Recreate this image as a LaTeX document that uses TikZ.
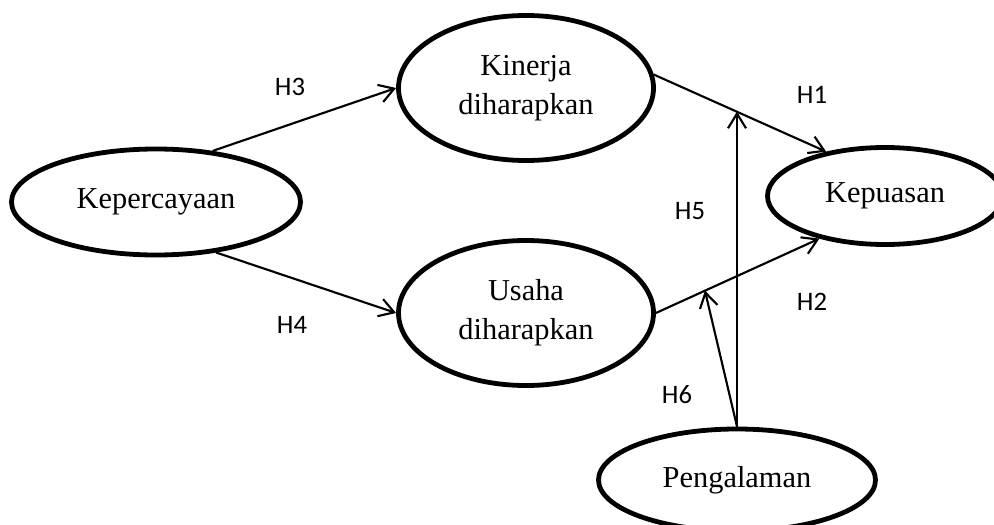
\documentclass[tikz,border=0pt]{standalone}
\usepackage{fontspec}
\setmainfont{Liberation Serif}
\newfontfamily\hypfont{Carlito}
\usetikzlibrary{arrows.meta,positioning,shapes.geometric}

\begin{document}
\begin{tikzpicture}[
  x=0.75pt,y=-0.75pt,
  construct/.style={ellipse,draw=black,line width=3.6pt,inner sep=0pt,align=center,font=\fontsize{22.8}{29.25}\selectfont},
  source/.style={construct,minimum width=216.75pt,minimum height=79.5pt},
  mediator/.style={construct,minimum width=191.25pt,minimum height=108.75pt},
  outcome/.style={construct,minimum width=176.25pt,minimum height=72.75pt},
  moderator/.style={construct,minimum width=207.75pt,minimum height=76.5pt},
  arrow/.style={-{Straight Barb[length=11pt,width=13.5pt]},line width=1.6pt},
  hyp/.style={font=\hypfont\fontsize{20}{24}\selectfont,inner sep=0pt}
]
\useasboundingbox (0,0) rectangle (994,524);
\node[source] (kep) at (156,202) {Kepercayaan};
\node[mediator] (kin) at (526,88) {Kinerja\\diharapkan};
\node[mediator] (usa) at (526,313) {Usaha\\diharapkan};
\node[outcome] (kpu) at (885,196) {Kepuasan};
\node[moderator] (pen) at (737,480) {Pengalaman};
\draw[arrow] (kep.42) -- (kin.west);
\draw[arrow] (kep.-40) -- (usa.west);
\draw[arrow] (kin.6) -- coordinate[pos=0.48] (m1) (kpu.143);
\draw[arrow] (usa.east) -- coordinate[pos=0.3] (m2) (kpu.213);
\draw[arrow] (pen.north) -- (pen.north |- m1);
\draw[arrow] (pen.north) -- (m2);
\node[hyp] (h3) at (290,87) {H3};
\node[hyp] (h4) at (292,325) {H4};
\node[hyp] (h1) at (812,95) {H1};
\node[hyp] (h2) at (812,302) {H2};
\node[hyp] (h5) at (690,211) {H5};
\node[hyp] (h6) at (677,395) {H6};
\end{tikzpicture}
\end{document}
